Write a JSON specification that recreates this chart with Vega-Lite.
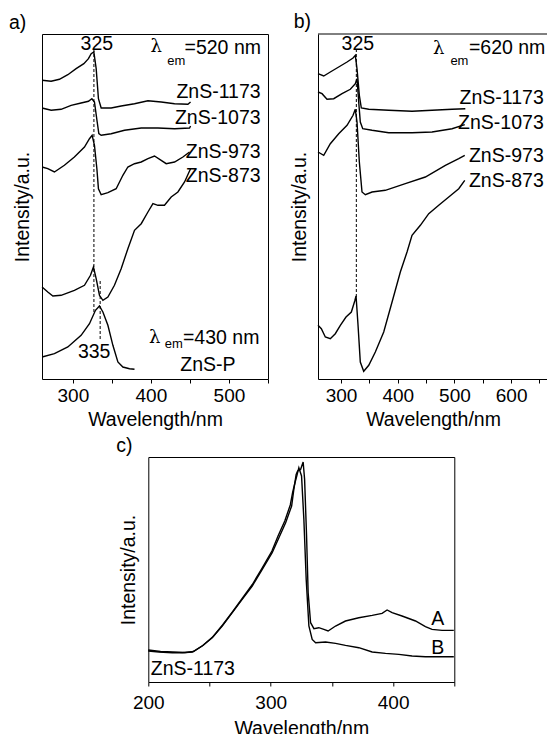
{
  "$schema": "https://vega.github.io/schema/vega-lite/v6.json",
  "padding": {"left": 8, "top": 12, "right": 0, "bottom": 0},
  "background": "white",
  "config": {
    "view": {"stroke": "black", "strokeWidth": 1},
    "font": "Liberation Sans",
    "axis": {"grid": false, "labelFont": "Liberation Sans", "titleFont": "Liberation Sans", "labelFontSize": 19, "titleFontSize": 19.5, "titleFontWeight": "normal", "labelColor": "black", "titleColor": "black", "tickColor": "black", "domainColor": "black", "tickSize": 4, "tickWidth": 1, "domainWidth": 1},
    "title": {"font": "Liberation Sans", "fontSize": 19.5, "fontWeight": "normal", "color": "black", "anchor": "start", "frame": "group", "baseline": "bottom", "offset": 1}
  },
  "spacing": 6,
  "vconcat": [
    {
      "spacing": 20,
      "hconcat": [
        {
          "width": 226, "height": 345,
          "title": {"text": "a)", "dx": -33},
          "encoding": {
            "x": {"field": "w", "type": "quantitative", "scale": {"domain": [260.5, 550], "nice": false, "zero": false},
                  "axis": {"title": "Wavelength/nm", "values": [300, 350, 400, 450, 500, 550], "format": "d", "labelExpr": "datum.value % 100 === 0 ? datum.label : ''", "domain": false, "labelPadding": 3, "titlePadding": 5, "labelOverlap": false, "labelFlush": false}},
            "y": {"field": "i", "type": "quantitative", "scale": {"domain": [0, 345], "nice": false, "zero": false},
                  "axis": {"title": "Intensity/a.u.", "labels": false, "ticks": false, "domain": false, "titlePadding": 10}}
          },
          "layer": [
            {
              "data": {"values": [
                {"s": "ZnS-1173", "w": 260.6, "i": 298.7}, {"s": "ZnS-1173", "w": 272.2, "i": 297.7}, {"s": "ZnS-1173", "w": 282.8, "i": 299.7}, {"s": "ZnS-1173", "w": 293.6, "i": 304.3}, {"s": "ZnS-1173", "w": 304.2, "i": 310.3}, {"s": "ZnS-1173", "w": 314.1, "i": 315.3}, {"s": "ZnS-1173", "w": 320, "i": 320.3}, {"s": "ZnS-1173", "w": 323.5, "i": 325.3}, {"s": "ZnS-1173", "w": 326.9, "i": 327}, {"s": "ZnS-1173", "w": 329.9, "i": 310.3}, {"s": "ZnS-1173", "w": 332.8, "i": 280.3}, {"s": "ZnS-1173", "w": 336.3, "i": 271}, {"s": "ZnS-1173", "w": 349.1, "i": 271}, {"s": "ZnS-1173", "w": 361.9, "i": 273}, {"s": "ZnS-1173", "w": 379, "i": 275.3}, {"s": "ZnS-1173", "w": 396.2, "i": 278.3}, {"s": "ZnS-1173", "w": 413.2, "i": 277}, {"s": "ZnS-1173", "w": 430.3, "i": 275.3}, {"s": "ZnS-1173", "w": 447.4, "i": 274.7}, {"s": "ZnS-1173", "w": 450.8, "i": 277},
                {"s": "ZnS-1073", "w": 260.6, "i": 271}, {"s": "ZnS-1073", "w": 272.2, "i": 268.7}, {"s": "ZnS-1073", "w": 285, "i": 269.7}, {"s": "ZnS-1073", "w": 297.8, "i": 273.7}, {"s": "ZnS-1073", "w": 310.6, "i": 276}, {"s": "ZnS-1073", "w": 320, "i": 277.7}, {"s": "ZnS-1073", "w": 324.4, "i": 280.3}, {"s": "ZnS-1073", "w": 327.7, "i": 277}, {"s": "ZnS-1073", "w": 331.2, "i": 257}, {"s": "ZnS-1073", "w": 333.3, "i": 245.3}, {"s": "ZnS-1073", "w": 336.3, "i": 243.7}, {"s": "ZnS-1073", "w": 349.1, "i": 245.3}, {"s": "ZnS-1073", "w": 366.2, "i": 248.7}, {"s": "ZnS-1073", "w": 387.6, "i": 251}, {"s": "ZnS-1073", "w": 409, "i": 251}, {"s": "ZnS-1073", "w": 430.3, "i": 250.3}, {"s": "ZnS-1073", "w": 449.5, "i": 251}, {"s": "ZnS-1073", "w": 450.8, "i": 253},
                {"s": "ZnS-973", "w": 260.6, "i": 212}, {"s": "ZnS-973", "w": 267.9, "i": 210.3}, {"s": "ZnS-973", "w": 276.4, "i": 207}, {"s": "ZnS-973", "w": 289.2, "i": 213.7}, {"s": "ZnS-973", "w": 302, "i": 222}, {"s": "ZnS-973", "w": 314.9, "i": 232}, {"s": "ZnS-973", "w": 321.3, "i": 240.3}, {"s": "ZnS-973", "w": 324.7, "i": 243.7}, {"s": "ZnS-973", "w": 327.7, "i": 233.7}, {"s": "ZnS-973", "w": 330.8, "i": 210.3}, {"s": "ZnS-973", "w": 332.8, "i": 190.3}, {"s": "ZnS-973", "w": 336.3, "i": 184.3}, {"s": "ZnS-973", "w": 344.9, "i": 186.3}, {"s": "ZnS-973", "w": 355.5, "i": 190.3}, {"s": "ZnS-973", "w": 364.1, "i": 203.7}, {"s": "ZnS-973", "w": 370.5, "i": 212}, {"s": "ZnS-973", "w": 379, "i": 215.3}, {"s": "ZnS-973", "w": 387.6, "i": 217}, {"s": "ZnS-973", "w": 396.2, "i": 220.3}, {"s": "ZnS-973", "w": 404.6, "i": 223}, {"s": "ZnS-973", "w": 413.2, "i": 218.7}, {"s": "ZnS-973", "w": 419.6, "i": 215.3}, {"s": "ZnS-973", "w": 430.3, "i": 217}, {"s": "ZnS-973", "w": 441, "i": 222}, {"s": "ZnS-973", "w": 449.5, "i": 227},
                {"s": "ZnS-873", "w": 260.6, "i": 92}, {"s": "ZnS-873", "w": 267.9, "i": 87}, {"s": "ZnS-873", "w": 274.4, "i": 83}, {"s": "ZnS-873", "w": 285, "i": 83.7}, {"s": "ZnS-873", "w": 302, "i": 88.7}, {"s": "ZnS-873", "w": 314.9, "i": 93.7}, {"s": "ZnS-873", "w": 322.6, "i": 103.7}, {"s": "ZnS-873", "w": 326.4, "i": 112}, {"s": "ZnS-873", "w": 329.9, "i": 100.3}, {"s": "ZnS-873", "w": 334.1, "i": 83.7}, {"s": "ZnS-873", "w": 338.5, "i": 78.7}, {"s": "ZnS-873", "w": 344.9, "i": 82}, {"s": "ZnS-873", "w": 353.3, "i": 93.7}, {"s": "ZnS-873", "w": 361.9, "i": 110.3}, {"s": "ZnS-873", "w": 370.5, "i": 130.3}, {"s": "ZnS-873", "w": 379, "i": 148.7}, {"s": "ZnS-873", "w": 387.6, "i": 155.3}, {"s": "ZnS-873", "w": 396.2, "i": 167}, {"s": "ZnS-873", "w": 402.6, "i": 175.3}, {"s": "ZnS-873", "w": 409, "i": 173.7}, {"s": "ZnS-873", "w": 417.4, "i": 173.7}, {"s": "ZnS-873", "w": 426, "i": 182}, {"s": "ZnS-873", "w": 434.6, "i": 187}, {"s": "ZnS-873", "w": 443.1, "i": 197}, {"s": "ZnS-873", "w": 450.8, "i": 210.3},
                {"s": "ZnS-P", "w": 260.6, "i": 22}, {"s": "ZnS-P", "w": 276.4, "i": 25.3}, {"s": "ZnS-P", "w": 293.6, "i": 32}, {"s": "ZnS-P", "w": 310.6, "i": 43.7}, {"s": "ZnS-P", "w": 321.3, "i": 55.3}, {"s": "ZnS-P", "w": 329, "i": 68.7}, {"s": "ZnS-P", "w": 334.1, "i": 73}, {"s": "ZnS-P", "w": 338.5, "i": 67}, {"s": "ZnS-P", "w": 344.9, "i": 53.7}, {"s": "ZnS-P", "w": 351.3, "i": 33.7}, {"s": "ZnS-P", "w": 357.7, "i": 17}, {"s": "ZnS-P", "w": 364.1, "i": 12}, {"s": "ZnS-P", "w": 372.6, "i": 10.3}, {"s": "ZnS-P", "w": 379, "i": 9.7}
              ]},
              "mark": {"type": "line", "color": "black", "strokeWidth": 1.4},
              "encoding": {"detail": {"field": "s"}}
            },
            {
              "data": {"values": [{"w": 327, "i": 67, "i2": 329}, {"w": 335, "i": 40, "i2": 100}]},
              "mark": {"type": "rule", "color": "black", "strokeWidth": 1, "strokeDash": [3, 2]},
              "encoding": {"y2": {"field": "i2"}}
            },
            {
              "data": {"values": [{"w": 330.8, "i": 335, "t": "325"}, {"w": 327.3, "i": 27, "t": "335"}, {"w": 473, "i": 14.5, "t": "ZnS-P"}]},
              "mark": {"type": "text", "align": "center", "baseline": "middle", "fontSize": 19.5, "font": "Liberation Sans", "color": "black"},
              "encoding": {"text": {"field": "t"}}
            },
            {
              "data": {"values": [{"w": 541, "i": 331.5, "t": "=520 nm"}, {"w": 540.5, "i": 287, "t": "ZnS-1173"}, {"w": 540.5, "i": 261, "t": "ZnS-1073"}, {"w": 540.5, "i": 227.5, "t": "ZnS-973"}, {"w": 540.5, "i": 203.5, "t": "ZnS-873"}, {"w": 539, "i": 41.5, "t": "=430 nm"}]},
              "mark": {"type": "text", "align": "right", "baseline": "middle", "fontSize": 19.5, "font": "Liberation Sans", "color": "black"},
              "encoding": {"text": {"field": "t"}}
            },
            {
              "data": {"values": [{"w": 406.8, "i": 332, "t": "λ"}, {"w": 405, "i": 41, "t": "λ"}]},
              "mark": {"type": "text", "align": "center", "baseline": "middle", "fontSize": 18, "font": "DejaVu Serif", "color": "black"},
              "encoding": {"text": {"field": "t"}}
            },
            {
              "data": {"values": [{"w": 432.4, "i": 318, "t": "em"}, {"w": 429.2, "i": 35.3, "t": "em"}]},
              "mark": {"type": "text", "align": "center", "baseline": "middle", "fontSize": 13, "font": "Liberation Sans", "color": "black"},
              "encoding": {"text": {"field": "t"}}
            }
          ]
        },
        {
          "width": 230, "height": 345,
          "view": {"stroke": null},
          "title": {"text": "b)", "dx": -24.3},
          "encoding": {
            "x": {"field": "w", "type": "quantitative", "scale": {"domain": [259.4, 665], "nice": false, "zero": false},
                  "axis": {"title": "Wavelength/nm", "values": [300, 350, 400, 450, 500, 550, 600, 650], "format": "d", "labelExpr": "datum.value % 100 === 0 ? datum.label : ''", "domain": true, "labelPadding": 3, "titlePadding": 5, "labelOverlap": false, "labelFlush": false}},
            "y": {"field": "i", "type": "quantitative", "scale": {"domain": [0, 345], "nice": false, "zero": false},
                  "axis": {"title": "Intensity/a.u.", "labels": false, "ticks": false, "domain": true, "titlePadding": 9}}
          },
          "layer": [
            {
              "data": {"values": [
                {"s": "ZnS-1173", "w": 259.4, "i": 305.3}, {"s": "ZnS-1173", "w": 269.5, "i": 303}, {"s": "ZnS-1173", "w": 281.1, "i": 307}, {"s": "ZnS-1173", "w": 295.9, "i": 312}, {"s": "ZnS-1173", "w": 310.6, "i": 317}, {"s": "ZnS-1173", "w": 321.2, "i": 321}, {"s": "ZnS-1173", "w": 325.2, "i": 323.7}, {"s": "ZnS-1173", "w": 328.2, "i": 310.3}, {"s": "ZnS-1173", "w": 332.3, "i": 283.7}, {"s": "ZnS-1173", "w": 335.8, "i": 271}, {"s": "ZnS-1173", "w": 348.9, "i": 269.7}, {"s": "ZnS-1173", "w": 384.1, "i": 268.7}, {"s": "ZnS-1173", "w": 425.2, "i": 267.7}, {"s": "ZnS-1173", "w": 460.5, "i": 268.7}, {"s": "ZnS-1173", "w": 495.8, "i": 269.7}, {"s": "ZnS-1173", "w": 519.2, "i": 270.3},
                {"s": "ZnS-1073", "w": 259.4, "i": 287}, {"s": "ZnS-1073", "w": 266.5, "i": 285.3}, {"s": "ZnS-1073", "w": 275.3, "i": 279.7}, {"s": "ZnS-1073", "w": 287.1, "i": 280.3}, {"s": "ZnS-1073", "w": 301.8, "i": 285.3}, {"s": "ZnS-1073", "w": 316.4, "i": 289.7}, {"s": "ZnS-1073", "w": 325.2, "i": 295.3}, {"s": "ZnS-1073", "w": 328.2, "i": 300.3}, {"s": "ZnS-1073", "w": 331.2, "i": 277}, {"s": "ZnS-1073", "w": 334, "i": 257}, {"s": "ZnS-1073", "w": 338.3, "i": 250.3}, {"s": "ZnS-1073", "w": 354.7, "i": 248.7}, {"s": "ZnS-1073", "w": 384.1, "i": 246.3}, {"s": "ZnS-1073", "w": 425.2, "i": 246.3}, {"s": "ZnS-1073", "w": 460.5, "i": 247}, {"s": "ZnS-1073", "w": 495.8, "i": 250.3}, {"s": "ZnS-1073", "w": 518.2, "i": 254.3},
                {"s": "ZnS-973", "w": 259.4, "i": 227}, {"s": "ZnS-973", "w": 269.5, "i": 223.7}, {"s": "ZnS-973", "w": 281.1, "i": 235.3}, {"s": "ZnS-973", "w": 295.9, "i": 245.3}, {"s": "ZnS-973", "w": 310.6, "i": 253.7}, {"s": "ZnS-973", "w": 321.2, "i": 263.7}, {"s": "ZnS-973", "w": 325.2, "i": 269.7}, {"s": "ZnS-973", "w": 328.2, "i": 257}, {"s": "ZnS-973", "w": 332.3, "i": 217}, {"s": "ZnS-973", "w": 337, "i": 187}, {"s": "ZnS-973", "w": 342.9, "i": 184.3}, {"s": "ZnS-973", "w": 354.7, "i": 187}, {"s": "ZnS-973", "w": 378.1, "i": 188.7}, {"s": "ZnS-973", "w": 413.4, "i": 195.3}, {"s": "ZnS-973", "w": 448.7, "i": 202}, {"s": "ZnS-973", "w": 484, "i": 213.7}, {"s": "ZnS-973", "w": 507.6, "i": 220.3}, {"s": "ZnS-973", "w": 518.2, "i": 223.7},
                {"s": "ZnS-873", "w": 259.4, "i": 53.7}, {"s": "ZnS-873", "w": 265.3, "i": 50.3}, {"s": "ZnS-873", "w": 272.3, "i": 42}, {"s": "ZnS-873", "w": 281.1, "i": 40.3}, {"s": "ZnS-873", "w": 289.9, "i": 45.3}, {"s": "ZnS-873", "w": 298.8, "i": 53.7}, {"s": "ZnS-873", "w": 308.8, "i": 62}, {"s": "ZnS-873", "w": 318.2, "i": 67}, {"s": "ZnS-873", "w": 324.2, "i": 78}, {"s": "ZnS-873", "w": 326.5, "i": 83}, {"s": "ZnS-873", "w": 330, "i": 53.7}, {"s": "ZnS-873", "w": 334, "i": 17}, {"s": "ZnS-873", "w": 340, "i": 7.7}, {"s": "ZnS-873", "w": 348.9, "i": 13.7}, {"s": "ZnS-873", "w": 360.5, "i": 27}, {"s": "ZnS-873", "w": 375.3, "i": 47}, {"s": "ZnS-873", "w": 390, "i": 77}, {"s": "ZnS-873", "w": 404.6, "i": 107}, {"s": "ZnS-873", "w": 416.4, "i": 127}, {"s": "ZnS-873", "w": 425.2, "i": 143.7}, {"s": "ZnS-873", "w": 439.9, "i": 153.7}, {"s": "ZnS-873", "w": 454.7, "i": 165.3}, {"s": "ZnS-873", "w": 472.3, "i": 173.7}, {"s": "ZnS-873", "w": 490, "i": 182}, {"s": "ZnS-873", "w": 507.6, "i": 190.3}, {"s": "ZnS-873", "w": 518.2, "i": 198.7}
              ]},
              "mark": {"type": "line", "color": "black", "strokeWidth": 1.4},
              "encoding": {"detail": {"field": "s"}}
            },
            {
              "data": {"values": [{"w": 259.4, "w2": 665, "i": 345}]},
              "mark": {"type": "rule", "color": "black", "strokeWidth": 1},
              "encoding": {"x2": {"field": "w2"}}
            },
            {
              "data": {"values": [{"w": 327, "i": 82, "i2": 329}]},
              "mark": {"type": "rule", "color": "black", "strokeWidth": 1, "strokeDash": [3, 2]},
              "encoding": {"y2": {"field": "i2"}}
            },
            {
              "data": {"values": [{"w": 329.6, "i": 335.3, "t": "325"}]},
              "mark": {"type": "text", "align": "center", "baseline": "middle", "fontSize": 19.5, "font": "Liberation Sans", "color": "black"},
              "encoding": {"text": {"field": "t"}}
            },
            {
              "data": {"values": [{"w": 660.3, "i": 331.5, "t": "=620 nm"}, {"w": 657.5, "i": 281.5, "t": "ZnS-1173"}, {"w": 657.5, "i": 256.3, "t": "ZnS-1073"}, {"w": 657.5, "i": 223.5, "t": "ZnS-973"}, {"w": 657.5, "i": 198.5, "t": "ZnS-873"}]},
              "mark": {"type": "text", "align": "right", "baseline": "middle", "fontSize": 19.5, "font": "Liberation Sans", "color": "black"},
              "encoding": {"text": {"field": "t"}}
            },
            {
              "data": {"values": [{"w": 472.3, "i": 330.3, "t": "λ"}]},
              "mark": {"type": "text", "align": "center", "baseline": "middle", "fontSize": 18, "font": "DejaVu Serif", "color": "black"},
              "encoding": {"text": {"field": "t"}}
            },
            {
              "data": {"values": [{"w": 508.8, "i": 318, "t": "em"}]},
              "mark": {"type": "text", "align": "center", "baseline": "middle", "fontSize": 13, "font": "Liberation Sans", "color": "black"},
              "encoding": {"text": {"field": "t"}}
            }
          ]
        }
      ]
    },
    {
      "spacing": 9.3,
      "hconcat": [
        {
          "width": 64, "height": 10,
          "view": {"stroke": null},
          "data": {"values": []},
          "mark": "point"
        },
        {
          "width": 306, "height": 225,
          "title": {"text": "c)", "dx": -32},
          "encoding": {
            "x": {"field": "w", "type": "quantitative", "scale": {"domain": [200, 450], "nice": false, "zero": false},
                  "axis": {"title": "Wavelength/nm", "values": [200, 250, 300, 350, 400, 450], "format": "d", "labelExpr": "datum.value % 100 === 0 ? datum.label : ''", "domain": false, "labelPadding": 7.5, "titlePadding": 7, "labelOverlap": false, "labelFlush": false}},
            "y": {"field": "i", "type": "quantitative", "scale": {"domain": [0, 225], "nice": false, "zero": false},
                  "axis": {"title": "Intensity/a.u.", "labels": false, "ticks": false, "domain": false, "titlePadding": 10}}
          },
          "layer": [
            {
              "data": {"values": [
                {"s": "A", "w": 200, "i": 31}, {"s": "A", "w": 208.7, "i": 30}, {"s": "A", "w": 219.6, "i": 29.3}, {"s": "A", "w": 227.8, "i": 29.3}, {"s": "A", "w": 235.9, "i": 30}, {"s": "A", "w": 244.1, "i": 36}, {"s": "A", "w": 252.2, "i": 44.3}, {"s": "A", "w": 260.4, "i": 56}, {"s": "A", "w": 268.6, "i": 69.3}, {"s": "A", "w": 276.7, "i": 82.6}, {"s": "A", "w": 284.9, "i": 96}, {"s": "A", "w": 293.1, "i": 112.6}, {"s": "A", "w": 301.2, "i": 129.3}, {"s": "A", "w": 306.7, "i": 144.3}, {"s": "A", "w": 312.2, "i": 159.3}, {"s": "A", "w": 317.1, "i": 176}, {"s": "A", "w": 318.9, "i": 192.6}, {"s": "A", "w": 320.8, "i": 207.6}, {"s": "A", "w": 322, "i": 211}, {"s": "A", "w": 324.4, "i": 212.6}, {"s": "A", "w": 326.5, "i": 220}, {"s": "A", "w": 327.7, "i": 202.6}, {"s": "A", "w": 329.3, "i": 146}, {"s": "A", "w": 330.6, "i": 89.3}, {"s": "A", "w": 332.6, "i": 59.3}, {"s": "A", "w": 335.3, "i": 53.3}, {"s": "A", "w": 339.3, "i": 54.3}, {"s": "A", "w": 343.4, "i": 52.6}, {"s": "A", "w": 346.9, "i": 51}, {"s": "A", "w": 353, "i": 56}, {"s": "A", "w": 361.1, "i": 61}, {"s": "A", "w": 372, "i": 64.3}, {"s": "A", "w": 382.9, "i": 66.6}, {"s": "A", "w": 391, "i": 68.6}, {"s": "A", "w": 395.1, "i": 72}, {"s": "A", "w": 399.2, "i": 69.3}, {"s": "A", "w": 407.3, "i": 66}, {"s": "A", "w": 418.3, "i": 61}, {"s": "A", "w": 426.4, "i": 55.3}, {"s": "A", "w": 431.8, "i": 52.6}, {"s": "A", "w": 440, "i": 51.6}, {"s": "A", "w": 449.6, "i": 51.6},
                {"s": "B", "w": 200, "i": 32}, {"s": "B", "w": 210, "i": 30.5}, {"s": "B", "w": 220, "i": 30}, {"s": "B", "w": 230, "i": 29.5}, {"s": "B", "w": 237, "i": 30.5}, {"s": "B", "w": 245, "i": 37}, {"s": "B", "w": 253, "i": 45.5}, {"s": "B", "w": 261, "i": 57.5}, {"s": "B", "w": 269, "i": 70.5}, {"s": "B", "w": 277, "i": 84}, {"s": "B", "w": 285, "i": 97.5}, {"s": "B", "w": 293, "i": 114}, {"s": "B", "w": 301, "i": 131}, {"s": "B", "w": 306, "i": 146}, {"s": "B", "w": 311.5, "i": 161}, {"s": "B", "w": 316, "i": 177}, {"s": "B", "w": 318, "i": 190}, {"s": "B", "w": 320, "i": 200}, {"s": "B", "w": 321.5, "i": 207}, {"s": "B", "w": 323, "i": 214.3}, {"s": "B", "w": 325.2, "i": 206}, {"s": "B", "w": 327.1, "i": 162.6}, {"s": "B", "w": 329, "i": 102.6}, {"s": "B", "w": 331.2, "i": 56}, {"s": "B", "w": 333.9, "i": 42.6}, {"s": "B", "w": 336.7, "i": 39.3}, {"s": "B", "w": 344.8, "i": 40}, {"s": "B", "w": 353, "i": 38.6}, {"s": "B", "w": 361.1, "i": 36.6}, {"s": "B", "w": 372, "i": 34.3}, {"s": "B", "w": 382.9, "i": 30}, {"s": "B", "w": 393.8, "i": 28.6}, {"s": "B", "w": 404.7, "i": 27.6}, {"s": "B", "w": 415.5, "i": 26}, {"s": "B", "w": 426.4, "i": 25.3}, {"s": "B", "w": 437.3, "i": 25.3}, {"s": "B", "w": 449.6, "i": 25.3}
              ]},
              "mark": {"type": "line", "color": "black", "strokeWidth": 1.4},
              "encoding": {"detail": {"field": "s"}}
            },
            {
              "data": {"values": [{"w": 436.5, "i": 62.6, "t": "A"}, {"w": 436.5, "i": 34.3, "t": "B"}]},
              "mark": {"type": "text", "align": "center", "baseline": "middle", "fontSize": 19.5, "font": "Liberation Sans", "color": "black"},
              "encoding": {"text": {"field": "t"}}
            },
            {
              "data": {"values": [{"w": 202, "i": 13.5, "t": "ZnS-1173"}]},
              "mark": {"type": "text", "align": "left", "baseline": "middle", "fontSize": 19.5, "font": "Liberation Sans", "color": "black"},
              "encoding": {"text": {"field": "t"}}
            }
          ]
        }
      ]
    }
  ]
}
